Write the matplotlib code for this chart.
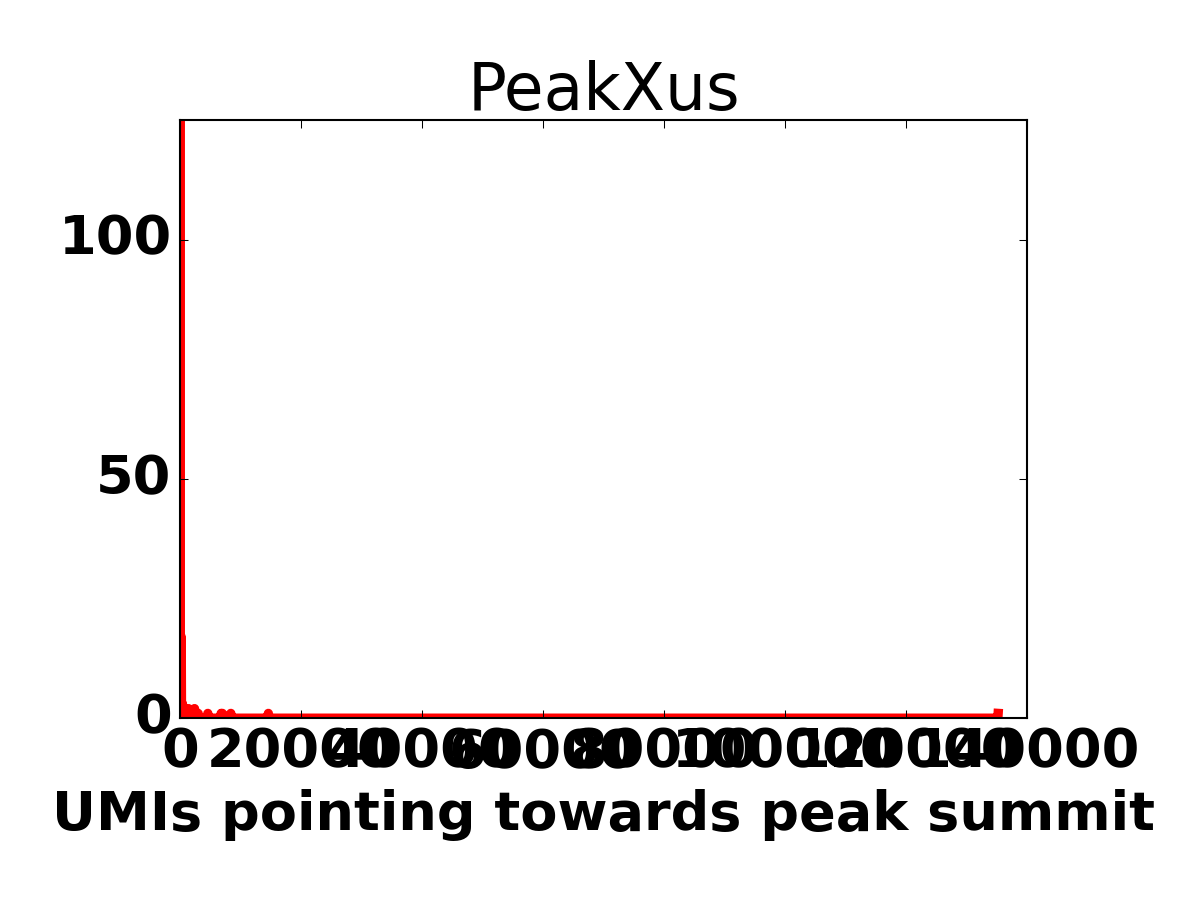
import numpy as np
import matplotlib
matplotlib.use("Agg")
import matplotlib.pyplot as plt

# histogram of UMIs per peak summit, only the non-empty bins are listed
bin_width = 50
max_umi = 135200
nonzero_left = [0, 200, 400, 600, 800, 1000, 1200, 1400, 1600, 1800,
                2000, 2200, 2400, 2600, 2800, 3000, 4600, 6800,
                7000, 8400, 14600, 135200]
nonzero_counts = [1480, 17, 3, 2, 2, 1, 1, 2, 1, 1,
                  1, 1, 2, 1, 1, 1, 1, 1,
                  1, 1, 1, 1]

xticks = [0, 20000, 40000, 60000, 80000, 100000, 120000, 140000]
yticks = [0, 50, 100]

# rebuild the full bin array (empty bins are zero)
edges = np.arange(0, max_umi + bin_width, bin_width)
counts = np.zeros(len(edges))
for left, c in zip(nonzero_left, nonzero_counts):
    counts[left // bin_width] = c

plt.style.use('classic')
fig = plt.figure(figsize=(8, 6), dpi=150, facecolor='white')
ax = fig.add_axes([0.15, 0.202, 0.706, 0.6647])

ax.plot(edges, counts, color='red', linewidth=4.5)

ax.set_xlim(0, 140000)
ax.set_ylim(0, 125)
ax.set_xticks(xticks)
ax.set_yticks(yticks)
ax.set_xticklabels([str(t) for t in xticks], fontsize=26, fontweight='bold')
ax.set_yticklabels([str(t) for t in yticks], fontsize=26, fontweight='bold')
ax.set_xlabel('UMIs pointing towards peak summit', fontsize=26, fontweight='bold')
ax.set_title('PeakXus', fontsize=31)

fig.savefig('out.png', dpi=150, facecolor='white')
